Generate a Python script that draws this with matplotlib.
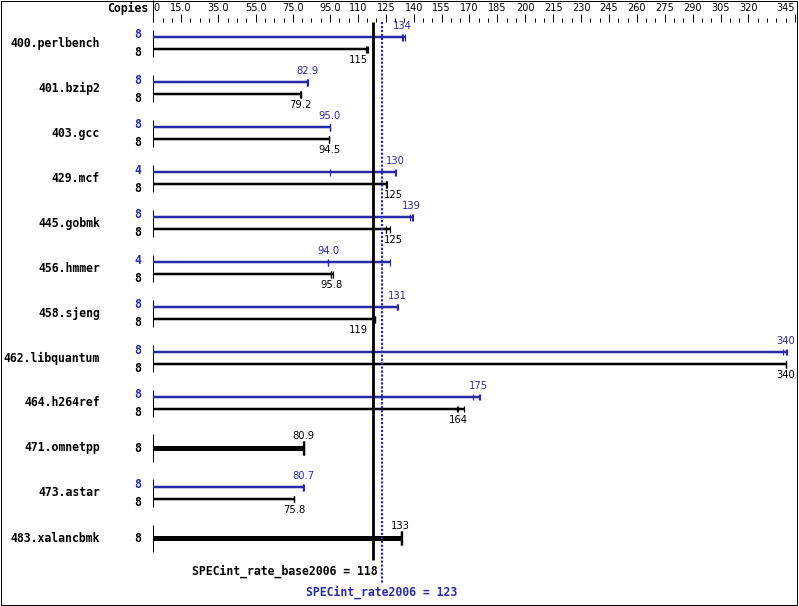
import matplotlib
matplotlib.use('Agg')
import matplotlib.pyplot as plt
from matplotlib.patches import Rectangle

# SPECint_rate2006 results, base (black) and peak (blue)
benchmarks = ['400.perlbench', '401.bzip2', '403.gcc', '429.mcf', '445.gobmk',
              '456.hmmer', '458.sjeng', '462.libquantum', '464.h264ref',
              '471.omnetpp', '473.astar', '483.xalancbmk']

base_copies = [8, 8, 8, 8, 8, 8, 8, 8, 8, 8, 8, 8]
peak_copies = [8, 8, 8, 4, 8, 4, 8, 8, 8, None, 8, None]

base_scores = ['115', '79.2', '94.5', '125', '125', '95.8', '119', '340', '164',
               '80.9', '75.8', '133']
peak_scores = ['134', '82.9', '95.0', '130', '139', '94.0', '131', '340', '175',
               None, '80.7', None]

base_runs = [[114.6, 115, 115.3], [79.0, 79.2, 79.3], [94.2, 94.5, 94.6],
             [125, 125.3, 125.7], [125, 125, 127.3], [95.5, 95.8, 96.4],
             [118.8, 119, 119.2], [340, 340, 340], [163.2, 164, 167.2],
             [80.7, 80.9, 81.0], [75.6, 75.8, 75.9], [133, 133.2, 133.5]]
peak_runs = [[133.6, 134, 135.2], [82.9, 82.9, 83.1], [95.0, 95.0, 95.1],
             [94.8, 130, 130.4], [138.2, 139, 139.4], [93.8, 94.0, 127.5],
             [131, 131.2, 131.4], [338.8, 340, 340.6], [171.7, 175, 175.6],
             None, [80.7, 80.7, 80.8], None]

base_mean = 118
peak_mean = 123

tick_labels = ['0', '15.0', '35.0', '55.0', '75.0', '95.0', '110', '125', '140',
               '155', '170', '185', '200', '215', '230', '245', '260', '275',
               '290', '305', '320', '345']
tick_values = [float(t) for t in tick_labels]

# where a base label has to dodge the mean lines
base_label_side = ['r', 'c', 'c', 'l', 'l', 'c', 'r', 'c', 'c', 'c', 'c', 'c']

BLUE = '#2a2aa8'
W, H = 799, 606
PX = 72 / 100  # one pixel in points

fig = plt.figure(figsize=(W / 100, H / 100), dpi=100)
ax = fig.add_axes([0, 0, 1, 1])
scale = 1.86
x0 = 153.3
ax.set_xlim(-x0 / scale, (W - x0) / scale)
ax.set_ylim((H - 43) / 45, -43 / 45)
ax.axis('off')

mono = 'DejaVu Sans Mono'
top_y = (22 - 43) / 45

# scale on top
ax_sc = fig.add_axes([0, (H - 22) / H, 1, 0.0001])
ax_sc.set_xlim(ax.get_xlim())
for s in ax_sc.spines.values():
    s.set_visible(False)
ax_sc.set_yticks([])
ax_sc.xaxis.tick_top()
ax_sc.set_xticks(tick_values)
ax_sc.set_xticklabels(tick_labels, fontsize=7, family='DejaVu Sans')
ax_sc.set_xticks(range(0, 346, 5), minor=True)
ax_sc.tick_params(axis='x', which='major', length=8 * PX, width=PX, pad=1, direction='out')
ax_sc.tick_params(axis='x', which='minor', length=4.5 * PX, width=PX, direction='out')
labs = ax_sc.get_xticklabels()
labs[0].set_ha('left')
labs[-1].set_ha('right')
ax_sc.patch.set_visible(False)

ax.vlines(0, -43 / 45, top_y, color='black', lw=PX)
ax.text(-2.6, (8 - 43) / 45, 'Copies', ha='right', va='center', family=mono,
        fontweight='bold', fontsize=8.3)

name_x = (100 - x0) / scale
copies_x = (141 - x0) / scale
d_small = 3.5 / 45
d_big = 7 / 45

for i, name in enumerate(benchmarks):
    yc = i
    ax.text(name_x, yc, name, ha='right', va='center', family=mono,
            fontweight='bold', fontsize=8.3)
    ax.vlines(0, yc - 13.5 / 45, yc + 13.5 / 45, color='black', lw=PX)
    if peak_runs[i] is None:
        runs = base_runs[i]
        ax.hlines(yc, 0, max(runs), color='black', lw=5 * PX)
        ax.vlines(runs, yc - d_big, yc + d_big, color='black', lw=1.3 * PX)
        ax.text(copies_x, yc, str(base_copies[i]), ha='right', va='center',
                family=mono, fontweight='bold', fontsize=8.3)
        ax.text(float(base_scores[i]), yc - 12 / 45, base_scores[i], ha='center',
                va='center', fontsize=7.2, color='black')
        continue
    yp = yc - 6 / 45
    yb = yc + 6 / 45
    # peak
    ax.hlines(yp, 0, max(peak_runs[i]), color=BLUE, lw=2.5 * PX)
    ax.vlines(peak_runs[i], yp - d_small, yp + d_small, color=BLUE, lw=1.2 * PX)
    ax.text(copies_x, yc - 8 / 45, str(peak_copies[i]), ha='right', va='center',
            family=mono, fontweight='bold', fontsize=8.3, color=BLUE)
    ax.text(float(peak_scores[i]), yp - 11 / 45, peak_scores[i], ha='center',
            va='center', fontsize=7.2, color=BLUE)
    # base
    ax.hlines(yb, 0, max(base_runs[i]), color='black', lw=2.5 * PX)
    ax.vlines(base_runs[i], yb - d_small, yb + d_small, color='black', lw=1.2 * PX)
    ax.text(copies_x, yc + 10 / 45, str(base_copies[i]), ha='right', va='center',
            family=mono, fontweight='bold', fontsize=8.3)
    side = base_label_side[i]
    if side == 'r':
        bx, ha = base_mean - 5 / scale, 'right'
    elif side == 'l':
        bx, ha = peak_mean + 2 / scale, 'left'
    else:
        bx, ha = float(base_scores[i]), 'center'
    ax.text(bx, yb + 11 / 45, base_scores[i], ha=ha, va='center', fontsize=7.2,
            color='black')

# mean lines
ax.vlines(base_mean, top_y, (560 - 43) / 45, color='black', lw=2.8 * PX)
ax.vlines(peak_mean, top_y, (583 - 43) / 45, color=BLUE, lw=2.2 * PX,
          linestyles=(0, (1, 0.8)))
ax.text(base_mean + 5 / scale, (571 - 43) / 45, 'SPECint_rate_base2006 = %d' % base_mean,
        ha='right', va='center', family=mono, fontweight='bold', fontsize=8.3)
ax.text(peak_mean, (592 - 43) / 45, 'SPECint_rate2006 = %d' % peak_mean,
        ha='center', va='center', family=mono, fontweight='bold', fontsize=8.3,
        color=BLUE)

fig.patches.append(Rectangle((0.5 / W, 1.5 / H), (W - 2.5) / W, (H - 2.5) / H,
                             transform=fig.transFigure, fill=False,
                             edgecolor='black', lw=PX))

fig.savefig('out.png', dpi=100)
